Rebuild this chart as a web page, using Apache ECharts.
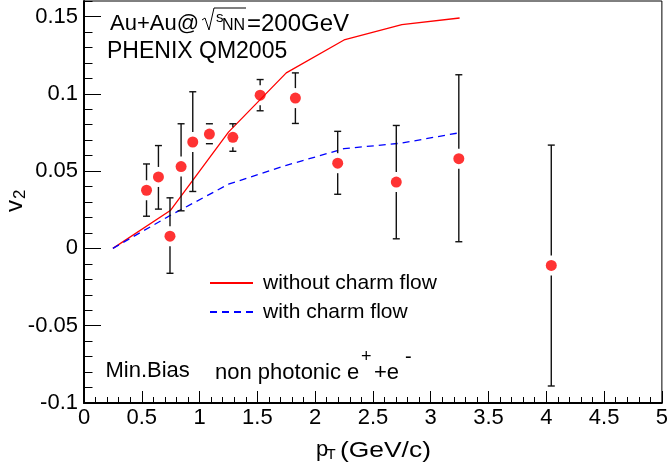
<!DOCTYPE html>
<html><head><meta charset="utf-8">
<script src="https://cdn.jsdelivr.net/npm/echarts@6/dist/echarts.min.js"></script>
<style>html,body{margin:0;padding:0;background:#fff}#c{width:671px;height:466px}</style>
</head><body><div id="c"></div>
<script>
// measured data (non photonic e+e- v2, Min.Bias Au+Au 200 GeV)
const pt   = [0.541, 0.644, 0.744, 0.840, 0.941, 1.085, 1.288, 1.524, 1.829, 2.195, 2.702, 3.243, 4.043];
const v2   = [0.0376, 0.0462, 0.0079, 0.0529, 0.0688, 0.0739, 0.0718, 0.0991, 0.0972, 0.0551, 0.0429, 0.0580, -0.0110];
const v2Hi = [0.0546, 0.0665, 0.0327, 0.0806, 0.1013, 0.0806, 0.0806, 0.1092, 0.1135, 0.0757, 0.0795, 0.1123, 0.0668];
const v2Lo = [0.0208, 0.0254, -0.0161, 0.0243, 0.0368, 0.0677, 0.0628, 0.0890, 0.0808, 0.0350, 0.0062, 0.0043, -0.0890];
// model curves
const modelPt      = [0.25, 0.75, 1.25, 1.75, 2.25, 2.75, 3.25];
const noCharmFlow  = [0.0, 0.0247, 0.0752, 0.1135, 0.1348, 0.1447, 0.1490];
const withCharmFlow= [0.0, 0.0215, 0.0415, 0.0537, 0.0645, 0.0681, 0.0748];
const seriesNames  = ['without charm flow', 'with charm flow'];

const FF = '"Liberation Sans", Arial, Helvetica, sans-serif';
const chart = echarts.init(document.getElementById('c'), null, {renderer: 'canvas'});

const pairs = (xs, ys) => xs.map((x, i) => [x, ys[i]]);
const errData = pt.map((x, i) => [x, v2[i], v2Lo[i], v2Hi[i]]);

function txt(x, y, text, size, extra) {
  return Object.assign({type: 'text', x: x, y: y, z: 50,
    style: {text: text, fontSize: size, fontFamily: FF, fill: '#000', align: 'left', verticalAlign: 'middle'}}, extra || {});
}

chart.setOption({
  animation: false,
  backgroundColor: '#fff',
  grid: {left: 84, right: 2, top: 1, bottom: 63, show: true, borderColor: '#000', borderWidth: 1, backgroundColor: 'transparent'},
  legend: {
    data: seriesNames, orient: 'vertical', left: 209, top: 272, padding: 0,
    itemWidth: 43, itemHeight: 14, itemGap: 7,
    itemStyle: {opacity: 0},
    textStyle: {fontSize: 21, fontFamily: FF, color: '#000', lineHeight: 22, padding: [0, 0, 0, 5]}
  },
  xAxis: {
    type: 'value', min: 0, max: 5, interval: 0.5,
    axisLine: {show: true, onZero: false, lineStyle: {color: '#000', width: 2}},
    axisTick: {show: true, inside: true, length: 12, lineStyle: {color: '#000', width: 1}},
    minorTick: {show: true, splitNumber: 5, length: 6, lineStyle: {color: '#000', width: 1}},
    axisLabel: {fontSize: 22, fontFamily: FF, color: '#000', margin: 4, formatter: v => String(+v.toFixed(2))},
    splitLine: {show: false}
  },
  yAxis: [{
    type: 'value', min: -0.1, max: 0.16, interval: 0.05,
    axisLine: {show: true, onZero: false, lineStyle: {color: '#000', width: 2}},
    axisTick: {show: true, inside: true, length: 17, lineStyle: {color: '#000', width: 1}},
    axisLabel: {fontSize: 22, fontFamily: FF, color: '#000', margin: 6, showMaxLabel: false, formatter: v => String(+v.toFixed(3))},
    splitLine: {show: false}
  }, {
    type: 'value', min: -0.1, max: 0.16, interval: 0.01, position: 'left',
    axisLine: {show: false},
    axisTick: {show: true, inside: true, length: 8.5, lineStyle: {color: '#000', width: 1}},
    axisLabel: {show: false},
    splitLine: {show: false}
  }],
  series: [{
    name: seriesNames[0], type: 'line', data: pairs(modelPt, noCharmFlow),
    symbol: 'none', color: '#ff0000', lineStyle: {color: '#ff0000', width: 1.3}, z: 3
  }, {
    name: seriesNames[1], type: 'line', data: pairs(modelPt, withCharmFlow),
    symbol: 'none', color: '#0000ff', lineStyle: {color: '#0000ff', width: 1.3, type: [7, 5]}, z: 3
  }, {
    name: 'err', type: 'custom', data: errData, z: 4,
    renderItem: function (params, api) {
      const c = api.coord([api.value(0), api.value(1)]);
      const lo = api.coord([api.value(0), api.value(2)]);
      const hi = api.coord([api.value(0), api.value(3)]);
      const gap = 10, hw = 3.5;
      const st = {stroke: '#111', lineWidth: 1.4};
      const ch = [];
      if (c[1] - gap > hi[1]) ch.push({type: 'line', shape: {x1: c[0], y1: hi[1], x2: c[0], y2: c[1] - gap}, style: st});
      if (lo[1] > c[1] + gap) ch.push({type: 'line', shape: {x1: c[0], y1: c[1] + gap, x2: c[0], y2: lo[1]}, style: st});
      ch.push({type: 'line', shape: {x1: c[0] - hw, y1: hi[1], x2: c[0] + hw, y2: hi[1]}, style: st});
      ch.push({type: 'line', shape: {x1: c[0] - hw, y1: lo[1], x2: c[0] + hw, y2: lo[1]}, style: st});
      return {type: 'group', children: ch};
    }
  }, {
    name: 'data', type: 'scatter', data: pairs(pt, v2), symbol: 'circle', symbolSize: 11,
    itemStyle: {color: '#ff0000'}, z: 5
  }],
  graphic: [
    txt(110, 24, 'Au+Au@', 22),
    {type: 'polyline', z: 50, shape: {points: [[202, 20], [205, 18], [209, 30], [214, 8], [246, 8]]}, style: {stroke: '#000', lineWidth: 1, fill: null}},
    txt(216, 18, 's', 15),
    txt(222, 26, 'NN', 16),
    txt(247, 24, '=200GeV', 24),
    txt(107, 52, 'PHENIX QM2005', 23),
    txt(105.5, 371, 'Min.Bias', 22),
    txt(215, 373, 'non photonic e', 22),
    txt(361, 357, '+', 18),
    txt(374, 373, '+e', 22),
    txt(405, 357, '-', 20),
    txt(316, 450, 'p', 22),
    txt(326.5, 455, 'T', 15),
    txt(340, 451, '(GeV/c)', 22, {scaleX: 1.2}),
    {type: 'group', x: 15, y: 197, rotation: Math.PI / 2, z: 50, children: [
      txt(-15, 0, 'v', 24),
      txt(-2, 5, '2', 17)
    ]}
  ]
});
</script></body></html>
